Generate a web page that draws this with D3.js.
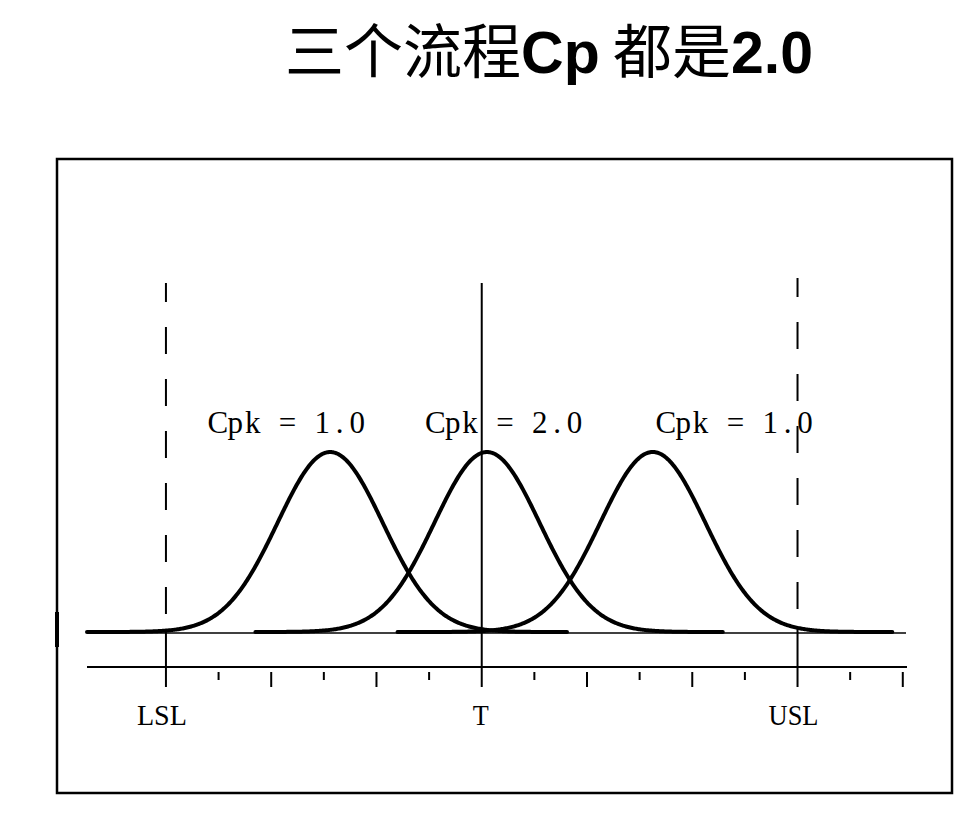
<!DOCTYPE html>
<html>
<head>
<meta charset="utf-8">
<script src="https://cdn.jsdelivr.net/npm/d3@7"></script>
<style>
  html, body { margin: 0; padding: 0; background: #fff; }
  svg { display: block; }
</style>
</head>
<body>
<script>
// Specification limits and target (axis units: one tick = one sigma)
const limitNames  = ["LSL", "T", "USL"];
const limitValues = [-6, 0, 6];

// Axis ticks
const majorTicks = [-6, -4, -2, 0, 2, 4, 6, 8];
const minorTicks = [-5, -3, -1, 1, 3, 5, 7];

// Three processes, all with Cp = 2.0 (sigma = 1)
const processMeans  = [-2.88, 0.1, 3.25];
const processSigmas = [1, 1, 1];
const tailFrom      = [-7.5, -4.3, -1.6];
const tailTo        = [1.63, 4.58, 7.8];
const cpkLabels     = ["Cpk = 1.0", "Cpk = 2.0", "Cpk = 1.0"];
const cpkLabelAt    = [-3.69, 0.44, 4.82];

const titleParts = [
  { text: "三个流程", latin: false },
  { text: "Cp",       latin: true },
  { text: " 都是",    latin: false },
  { text: "2.0",      latin: true }
];

const W = 979, H = 816;
const svg = d3.select("body").append("svg").attr("width", W).attr("height", H);

// Frame
const frame = { left: 57, top: 159, right: 952, bottom: 793 };

const x = d3.scaleLinear().domain([-7.5, 8.08]).range([87, 907]);
const pdfMax = 1 / Math.sqrt(2 * Math.PI);
const y = d3.scaleLinear().domain([0, pdfMax]).range([632, 452]);

const axisY = 667;
const baseY = 633;
const refTop = 283;

// Title
const title = svg.append("text")
  .attr("x", 549).attr("y", 73)
  .attr("text-anchor", "middle")
  .attr("font-size", 59)
  .attr("fill", "#000");
title.selectAll("tspan").data(titleParts).join("tspan")
  .attr("font-family", d => d.latin ? "'Liberation Sans', Arial, sans-serif" : "'Noto Sans CJK SC', sans-serif")
  .attr("font-weight", d => d.latin ? "bold" : 400)
  .text(d => d.text);

// Outer frame
svg.append("rect")
  .attr("x", frame.left).attr("y", frame.top)
  .attr("width", frame.right - frame.left).attr("height", frame.bottom - frame.top)
  .attr("fill", "none").attr("stroke", "#000").attr("stroke-width", 2.5);

// Small mark on the frame at baseline level
svg.append("line")
  .attr("x1", frame.left).attr("x2", frame.left)
  .attr("y1", baseY - 21).attr("y2", baseY + 14)
  .attr("stroke", "#000").attr("stroke-width", 4);

// Baseline of the distributions
svg.append("line")
  .attr("x1", x.range()[0] + 1).attr("x2", x.range()[1] - 1)
  .attr("y1", baseY).attr("y2", baseY)
  .attr("stroke", "#000").attr("stroke-width", 1.6);

// Horizontal axis
svg.append("line")
  .attr("x1", x.range()[0]).attr("x2", x.range()[1])
  .attr("y1", axisY).attr("y2", axisY)
  .attr("stroke", "#000").attr("stroke-width", 2);

// Ticks (limits are drawn with their reference lines)
const tickG = svg.append("g").attr("stroke", "#000").attr("stroke-width", 2);
tickG.selectAll("line.major")
  .data(majorTicks.filter(v => !limitValues.includes(v)))
  .join("line").attr("class", "major")
  .attr("x1", d => x(d)).attr("x2", d => x(d))
  .attr("y1", axisY + 5).attr("y2", axisY + 20);
tickG.selectAll("line.minor")
  .data(minorTicks)
  .join("line").attr("class", "minor")
  .attr("x1", d => x(d)).attr("x2", d => x(d))
  .attr("y1", axisY + 5).attr("y2", axisY + 13);

// Reference lines: dashed spec limits, solid target
const refG = svg.append("g").attr("stroke", "#000").attr("stroke-width", 2);
limitNames.forEach((name, i) => {
  const xv = x(limitValues[i]);
  if (name === "T") {
    refG.append("line")
      .attr("x1", xv).attr("x2", xv)
      .attr("y1", refTop).attr("y2", axisY + 20);
  } else {
    const top = name === "LSL" ? refTop : refTop - 5;
    refG.append("line")
      .attr("x1", xv).attr("x2", xv)
      .attr("y1", top).attr("y2", baseY - 4)
      .attr("stroke-dasharray", "27 25")
      .attr("stroke-dashoffset", 8);
    refG.append("line")
      .attr("x1", xv).attr("x2", xv)
      .attr("y1", baseY - 4).attr("y2", axisY + 20);
  }
});

// Distribution curves
const line = d3.line().x(d => x(d[0])).y(d => y(d[1]));
const normal = (v, m, s) => Math.exp(-0.5 * ((v - m) / s) ** 2) / (s * Math.sqrt(2 * Math.PI));
processMeans.forEach((m, i) => {
  const s = processSigmas[i];
  const pts = d3.range(tailFrom[i], tailTo[i] + 1e-9, 0.02).map(v => [v, normal(v, m, s)]);
  svg.append("path")
    .attr("d", line(pts))
    .attr("fill", "none")
    .attr("stroke", "#000")
    .attr("stroke-width", 4)
    .attr("stroke-linejoin", "round")
    .attr("stroke-linecap", "round");
});

const serif = "'Liberation Serif', 'DejaVu Serif', serif";

// Cpk labels: fixed-cell serif text (each character centred in its own cell)
const cell = 17.4;
function cellText(str, cx, baseline) {
  const chars = Array.from(str);
  const start = cx - chars.length * cell / 2;
  const t = svg.append("text")
    .attr("y", baseline)
    .attr("font-family", serif)
    .attr("font-size", 31)
    .attr("text-anchor", "middle")
    .attr("fill", "#000");
  t.selectAll("tspan").data(chars).join("tspan")
    .attr("x", (d, k) => start + cell * (k + 0.5))
    .text(d => d === " " ? "\u00a0" : d);
}
cpkLabels.forEach((lab, i) => cellText(lab, x(cpkLabelAt[i]), 433));

// Limit labels under the axis
svg.append("g").selectAll("text")
  .data(limitNames)
  .join("text")
  .attr("x", (d, i) => x(limitValues[i]) - (d === "T" ? 1 : 4))
  .attr("y", 725)
  .attr("text-anchor", "middle")
  .attr("font-family", serif)
  .attr("font-size", 29)
  .attr("textLength", d => d.length === 1 ? 16 : 50)
  .attr("lengthAdjust", "spacingAndGlyphs")
  .attr("fill", "#000")
  .text(d => d);
</script>
</body>
</html>
